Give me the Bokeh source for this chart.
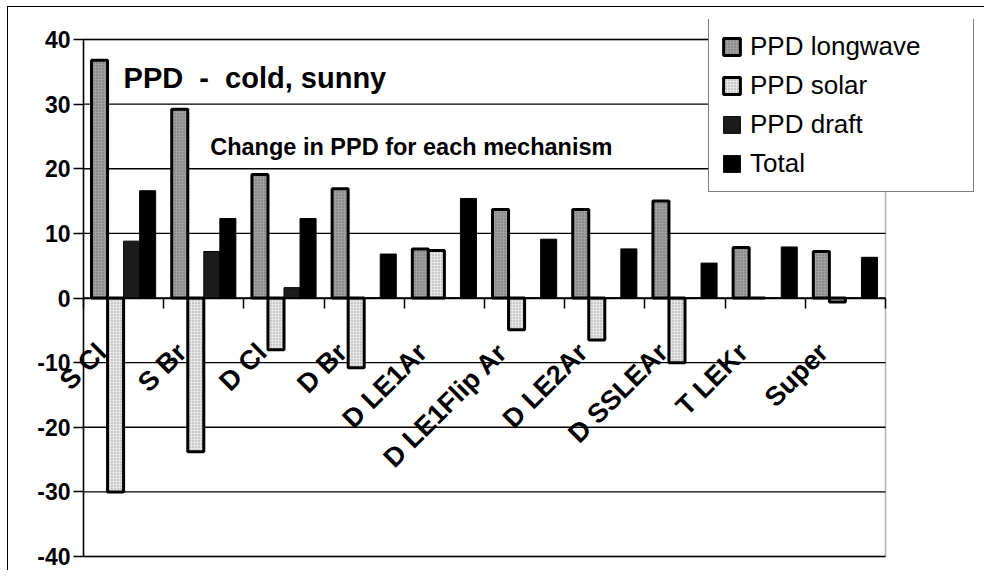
import numpy as np
from math import pi
from bokeh.plotting import figure
from bokeh.models import (ColumnDataSource, Range1d, LinearAxis, FixedTicker,
                          Legend, LegendItem, Label, BoxAnnotation)
from bokeh.layouts import column
from bokeh.transform import dodge
from bokeh.core.properties import value
from bokeh.embed import file_html
from bokeh.resources import INLINE

# ---------------- data ----------------
categories = ["S Cl", "S Br", "D Cl", "D Br", "D LE1Ar", "D LE1Flip Ar",
              "D LE2Ar", "D SSLEAr", "T LEKr", "Super"]
ppd_longwave = [36.8, 29.2, 19.1, 16.9, 7.6, 13.7, 13.7, 15.0, 7.8, 7.2]
ppd_solar = [-30.0, -23.8, -8.0, -10.8, 7.35, -4.9, -6.5, -10.0, 0.0, -0.6]
ppd_draft = [8.8, 7.2, 1.6, 0.0, 0.0, 0.0, 0.0, 0.0, 0.0, 0.0]
ppd_total = [16.6, 12.3, 12.3, 6.8, 15.4, 9.1, 7.6, 5.4, 7.9, 6.3]
y_ticks = [-40, -30, -20, -10, 0, 10, 20, 30, 40]
y_min, y_max = -40, 40
title_text = "PPD\u00a0\u00a0-\u00a0\u00a0cold, sunny"
subtitle_text = "Change in PPD for each mechanism"

FONT = "Liberation Sans"
n = len(categories)
xc = np.arange(n) + 0.5

# geometry (pixels). The frame is larger than the plot area so that the
# legend (which overhangs the plot area), the value-axis labels and the long
# rotated category labels are not clipped.
AREA_W, AREA_H = 802, 517          # plot area proper
LEFT_EXTRA, RIGHT_EXTRA, TOP_EXTRA, BOTTOM_EXTRA = 68, 95, 20, 14
px_x = AREA_W / n
px_y = AREA_H / (y_max - y_min)
x_start = -LEFT_EXTRA / px_x
x_end = n + RIGHT_EXTRA / px_x
y_top = y_max + TOP_EXTRA / px_y
y_bot = y_min - BOTTOM_EXTRA / px_y

src = ColumnDataSource(dict(
    x=xc, cat=categories, lw=ppd_longwave, so=ppd_solar, dr=ppd_draft,
    tot=ppd_total, zero=[0] * n))

p = figure(frame_width=AREA_W + LEFT_EXTRA + RIGHT_EXTRA,
           frame_height=AREA_H + TOP_EXTRA + BOTTOM_EXTRA,
           x_range=Range1d(x_start, x_end), y_range=Range1d(y_bot, y_top),
           output_backend="svg", toolbar_location=None, x_axis_type=None,
           min_border_left=7, min_border_right=4, min_border_top=12,
           min_border_bottom=0)

p.background_fill_color = "white"
p.border_fill_color = "white"
p.outline_line_color = None
p.ygrid.visible = False

# y axis, fixed at the left edge of the plot area
ya = p.yaxis[0]
ya.fixed_location = 0
ya.ticker = FixedTicker(ticks=y_ticks)
ya.bounds = (y_min, y_max)
ya.major_label_overrides = {t: str(t) for t in y_ticks}
ya.major_label_text_font = FONT
ya.major_label_text_font_style = "bold"
ya.major_label_text_font_size = "23px"
ya.major_label_text_color = "black"
ya.major_tick_out = 10
ya.major_tick_in = 0
ya.minor_tick_out = 0
ya.minor_tick_in = 0
ya.major_tick_line_width = 1.5
ya.axis_line_width = 1.5
ya.major_label_standoff = 3

# horizontal gridlines limited to the plot area
p.segment(x0=[0] * len(y_ticks), x1=[n] * len(y_ticks), y0=y_ticks, y1=y_ticks,
          line_color="black", line_width=1.3)

# x axis drawn on the zero line, ticks between categories
xa = LinearAxis(ticker=FixedTicker(ticks=list(range(n + 1))), fixed_location=0,
                bounds=(0, n),
                major_label_overrides={i: "" for i in range(n + 1)},
                major_tick_out=10, major_tick_in=0,
                minor_tick_out=0, minor_tick_in=0, axis_line_width=1.5,
                major_tick_line_width=1.5)
p.add_layout(xa, "below")

w = 0.2
r_lw = p.vbar(x=dodge("x", -0.3), top="lw", bottom=0, width=w, source=src,
              fill_color="#a0a0a0", line_color="black", line_width=3,
              hatch_pattern="dot", hatch_color="#6a6a6a", hatch_scale=3, hatch_weight=1)
r_so = p.vbar(x=dodge("x", -0.1), top="so", bottom=0, width=w, source=src,
              fill_color="#e6e6e6", line_color="black", line_width=3,
              hatch_pattern="dot", hatch_color="#9a9a9a", hatch_scale=3, hatch_weight=1)
r_dr = p.vbar(x=dodge("x", 0.1), top="dr", bottom=0, width=w, source=src,
              fill_color="#1c1c1c", line_color="black", line_width=1)
r_to = p.vbar(x=dodge("x", 0.3), top="tot", bottom=0, width=w, source=src,
              fill_color="black", line_color="black", line_width=1)

# plot area border
p.add_layout(BoxAnnotation(left=0, right=n, bottom=y_min, top=y_max,
                           fill_alpha=0, line_color="black", line_width=1.5))

# category labels, rotated, just below the zero line
p.text(x="x", y="zero", text="cat", source=src, angle=pi / 4,
       text_align="right", text_baseline="middle", x_offset=-22, y_offset=50,
       text_font=value(FONT), text_font_style="bold", text_font_size="27px",
       text_color="black")

p.add_layout(Label(x=0.5, y=34, text=title_text, text_font=FONT,
                   text_font_style="bold", text_font_size="29px",
                   text_color="black", text_baseline="alphabetic"))
p.add_layout(Label(x=1.58, y=23.3, text=subtitle_text, text_font=FONT,
                   text_font_style="bold", text_font_size="23.5px",
                   text_color="black", text_baseline="alphabetic"))

legend = Legend(items=[LegendItem(label="PPD longwave", renderers=[r_lw]),
                       LegendItem(label="PPD solar", renderers=[r_so]),
                       LegendItem(label="PPD draft", renderers=[r_dr]),
                       LegendItem(label="Total", renderers=[r_to])],
                location=(693, 364 + BOTTOM_EXTRA))
legend.label_text_font = FONT
legend.label_text_font_size = "26px"
legend.label_text_color = "black"
legend.glyph_width = 21
legend.glyph_height = 21
legend.label_standoff = 8
legend.label_width = 211
legend.label_height = 31
legend.spacing = 8
legend.padding = 12
legend.margin = 0
legend.border_line_color = "black"
legend.border_line_width = 1.5
legend.background_fill_color = "white"
legend.background_fill_alpha = 1.0
p.add_layout(legend, "center")

layout = column(p, styles={"border-top": "1.5px solid black",
                           "border-left": "1.5px solid black",
                           "margin-left": "7px", "margin-top": "6px"})

open("out.html", "w").write(file_html(layout, INLINE))
